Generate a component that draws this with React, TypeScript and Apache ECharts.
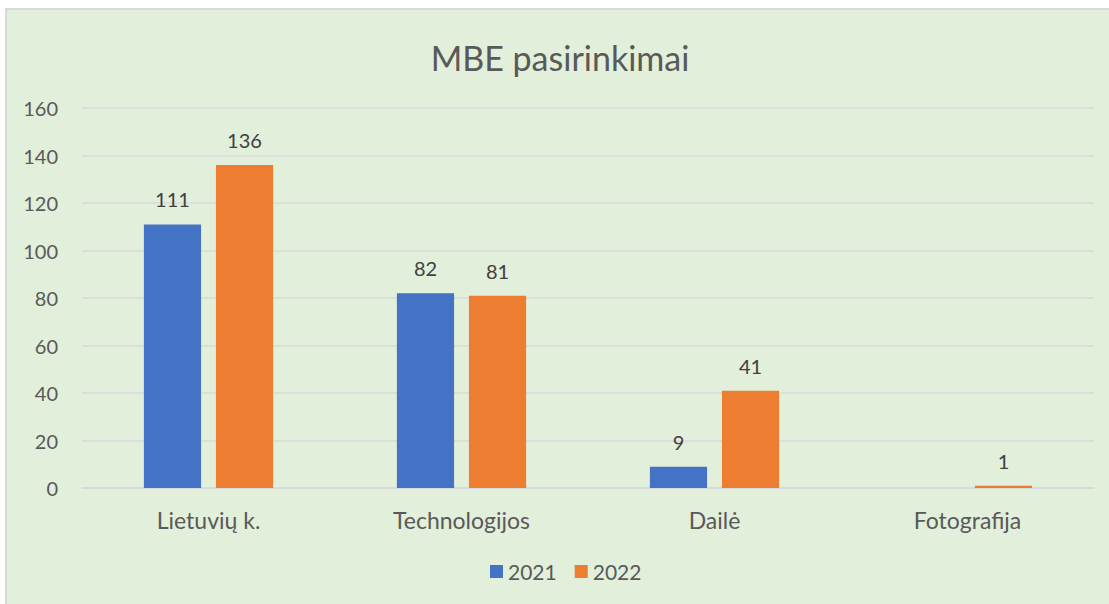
import React, { useEffect, useRef } from "react";
import * as echarts from "echarts";

const categories = ["Lietuvių k.", "Technologijos", "Dailė", "Fotografija"];
const series2021 = [111, 82, 9, null];
const series2022 = [136, 81, 41, 1];
const yTicks = { min: 0, max: 160, interval: 20 };

export default function App() {
  const ref = useRef<HTMLDivElement>(null);
  useEffect(() => {
    if (!ref.current) return;
    const chart = echarts.init(ref.current, null, { renderer: "svg" });
    const font = "Lato, 'Open Sans', sans-serif";
    chart.setOption({
      animation: false,
      textStyle: { fontFamily: font },
      title: {
        text: "MBE pasirinkimai",
        left: "center",
        top: 25,
        textStyle: { fontFamily: font, fontSize: 34, fontWeight: "normal", color: "#595959" },
      },
      grid: { left: 75, right: 19, top: 98, bottom: 118 },
      legend: {
        bottom: 19,
        left: 478,
        itemWidth: 13,
        itemHeight: 13,
        itemGap: 18,
        icon: "rect",
        textStyle: { fontFamily: font, fontSize: 21, color: "#595959" },
      },
      xAxis: {
        type: "category",
        data: categories,
        axisLine: { lineStyle: { color: "#D9D9D9", width: 1.5 } },
        axisTick: { show: false },
        axisLabel: { fontFamily: font, fontSize: 23, color: "#595959", margin: 20 },
      },
      yAxis: {
        type: "value",
        min: yTicks.min,
        max: yTicks.max,
        interval: yTicks.interval,
        axisLine: { show: false },
        axisTick: { show: false },
        splitLine: { lineStyle: { color: "#D9D9D9", width: 1.5 } },
        axisLabel: { fontFamily: font, fontSize: 20, color: "#595959", margin: 24 },
      },
      series: [
        {
          name: "2021",
          type: "bar",
          data: series2021,
          barWidth: "22.6%",
          barGap: "26%",
          itemStyle: { color: "#4472C4" },
          label: { show: true, position: "top", distance: 15, fontFamily: font, fontSize: 20, color: "#404040" },
        },
        {
          name: "2022",
          type: "bar",
          data: series2022,
          barWidth: "22.6%",
          barGap: "26%",
          itemStyle: { color: "#ED7D31" },
          label: { show: true, position: "top", distance: 15, fontFamily: font, fontSize: 20, color: "#404040" },
        },
      ],
    });
    return () => chart.dispose();
  }, []);
  return (
    <div style={{ position: "fixed", left: 0, top: 0, width: 1109, height: 604, background: "#fff", overflow: "hidden" }}>
      <div
        style={{
          position: "absolute",
          left: 5,
          top: 8,
          width: 1110,
          height: 600,
          background: "#E2EFDA",
          border: "2px solid #D9D9D9",
          boxSizing: "border-box",
        }}
      >
        <div ref={ref} style={{ position: "absolute", left: 0, top: 0, width: 1106, height: 596 }} />
      </div>
    </div>
  );
}
